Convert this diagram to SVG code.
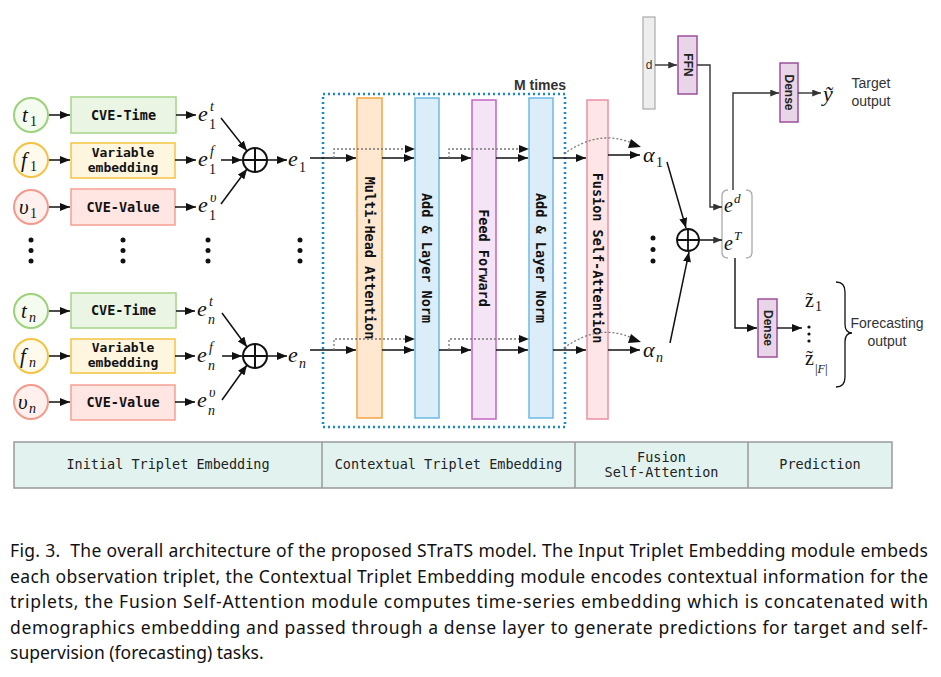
<svg xmlns="http://www.w3.org/2000/svg" width="941" height="677" viewBox="0 0 941 677">
<style>
.mono{font-family:"DejaVu Sans Mono","Liberation Mono",monospace;font-size:13.5px;font-weight:bold;fill:#111;text-anchor:middle}
.mono2{font-family:"DejaVu Sans Mono","Liberation Mono",monospace;font-size:13px;font-weight:bold;fill:#111;text-anchor:middle}
.bar{font-family:"DejaVu Sans Mono","Liberation Mono",monospace;font-size:13.5px;fill:#222;text-anchor:middle}
.sans{font-family:"Liberation Sans",Arial,sans-serif;fill:#333}
.vb{font-family:"Liberation Sans",Arial,sans-serif;font-weight:bold;font-size:12px;fill:#222;text-anchor:middle}
.m{font-family:"Liberation Serif","DejaVu Serif",serif;font-style:italic;fill:#111}
.ms{font-family:"Liberation Serif","DejaVu Serif",serif;fill:#111}
.ln{stroke:#111;stroke-width:1.5;fill:none}
.dl{stroke:#777;stroke-width:1.3;stroke-dasharray:2 2;fill:none}
.cap{font-family:"Noto Sans","Open Sans",sans-serif;font-size:17.5px;fill:#111}
.dot{fill:#111}
</style>
<defs>
<marker id="a" viewBox="0 0 10 8" refX="10" refY="4" markerWidth="10" markerHeight="8" markerUnits="userSpaceOnUse" orient="auto"><path d="M0,0 L10,4 L0,8 z" fill="#111"/></marker>
<marker id="g" viewBox="0 0 10 8" refX="10" refY="4" markerWidth="9" markerHeight="7" markerUnits="userSpaceOnUse" orient="auto"><path d="M0,0 L10,4 L0,8 z" fill="#333"/></marker>
</defs>
<rect width="941" height="677" fill="#fff"/>

<!-- Row 1 -->
<g id="t1"><circle cx="31" cy="115" r="17" fill="#f4fbef" stroke="#9bd27a" stroke-width="2"/><text class="m" x="22" y="122" font-size="21">t</text><text class="ms" x="30" y="126" font-size="14">1</text></g>
<g id="f1"><circle cx="31" cy="160" r="17" fill="#fffaec" stroke="#f5c343" stroke-width="2"/><text class="m" x="21" y="167" font-size="21">f</text><text class="ms" x="30" y="171" font-size="14">1</text></g>
<g id="v1"><circle cx="31" cy="207" r="17" fill="#fff0ee" stroke="#f39a8c" stroke-width="2"/><text class="m" x="19" y="214" font-size="21">υ</text><text class="ms" x="30" y="218" font-size="14">1</text></g>
<g id="cvet1"><rect x="71" y="97" width="105" height="36" fill="#eaf6e3" stroke="#a4d587" stroke-width="1.5"/><text class="mono" x="123.5" y="120">CVE-Time</text></g>
<g id="var1"><rect x="71" y="143" width="104" height="35" fill="#fff6df" stroke="#f5c343" stroke-width="1.5"/><text class="mono2" x="123" y="157">Variable</text><text class="mono2" x="123" y="172">embedding</text></g>
<g id="cvev1"><rect x="71" y="189" width="104" height="36" fill="#ffe6e2" stroke="#f5a093" stroke-width="1.5"/><text class="mono" x="123" y="212">CVE-Value</text></g>
<g id="et1"><text class="m" x="198" y="121" font-size="22">e</text><text class="m" x="210" y="111" font-size="14">t</text><text class="ms" x="209" y="129" font-size="14">1</text></g>
<g id="ef1"><text class="m" x="198" y="166" font-size="22">e</text><text class="m" x="210" y="156" font-size="14">f</text><text class="ms" x="209" y="174" font-size="14">1</text></g>
<g id="ev1"><text class="m" x="198" y="212" font-size="22">e</text><text class="m" x="210" y="202" font-size="14">υ</text><text class="ms" x="209" y="220" font-size="14">1</text></g>
<g id="plus1"><circle cx="255" cy="160" r="12" fill="#fff" stroke="#111" stroke-width="2"/><path d="M243,160 H267 M255,148 V172" stroke="#111" stroke-width="2"/></g>
<g id="e1"><text class="m" x="288" y="166" font-size="22">e</text><text class="ms" x="299" y="172" font-size="14">1</text></g>

<!-- Row n -->
<g id="tn"><circle cx="31" cy="311" r="17" fill="#f4fbef" stroke="#9bd27a" stroke-width="2"/><text class="m" x="21" y="318" font-size="21">t</text><text class="m" x="29" y="322" font-size="14">n</text></g>
<g id="fn"><circle cx="31" cy="356" r="17" fill="#fffaec" stroke="#f5c343" stroke-width="2"/><text class="m" x="20" y="363" font-size="21">f</text><text class="m" x="29" y="367" font-size="14">n</text></g>
<g id="vn"><circle cx="31" cy="402" r="17" fill="#fff0ee" stroke="#f39a8c" stroke-width="2"/><text class="m" x="18" y="409" font-size="21">υ</text><text class="m" x="29" y="413" font-size="14">n</text></g>
<g id="cvetn"><rect x="71" y="293" width="105" height="35" fill="#eaf6e3" stroke="#a4d587" stroke-width="1.5"/><text class="mono" x="123.5" y="315">CVE-Time</text></g>
<g id="varn"><rect x="71" y="339" width="104" height="34" fill="#fff6df" stroke="#f5c343" stroke-width="1.5"/><text class="mono2" x="123" y="352">Variable</text><text class="mono2" x="123" y="367">embedding</text></g>
<g id="cvevn"><rect x="71" y="385" width="104" height="35" fill="#ffe6e2" stroke="#f5a093" stroke-width="1.5"/><text class="mono" x="123" y="407">CVE-Value</text></g>
<g id="etn"><text class="m" x="197" y="316" font-size="22">e</text><text class="m" x="209" y="306" font-size="14">t</text><text class="m" x="208" y="324" font-size="14">n</text></g>
<g id="efn"><text class="m" x="197" y="362" font-size="22">e</text><text class="m" x="209" y="352" font-size="14">f</text><text class="m" x="208" y="370" font-size="14">n</text></g>
<g id="evn"><text class="m" x="197" y="407" font-size="22">e</text><text class="m" x="209" y="397" font-size="14">υ</text><text class="m" x="208" y="415" font-size="14">n</text></g>
<g id="plusn"><circle cx="255" cy="356" r="12" fill="#fff" stroke="#111" stroke-width="2"/><path d="M243,356 H267 M255,344 V368" stroke="#111" stroke-width="2"/></g>
<g id="en"><text class="m" x="288" y="362" font-size="22">e</text><text class="m" x="299" y="368" font-size="14">n</text></g>

<!-- vertical ellipsis -->
<g id="dots">
<circle class="dot" cx="31" cy="240" r="2.5"/><circle class="dot" cx="31" cy="250.5" r="2.5"/><circle class="dot" cx="31" cy="261" r="2.5"/>
<circle class="dot" cx="123" cy="240" r="2.5"/><circle class="dot" cx="123" cy="250.5" r="2.5"/><circle class="dot" cx="123" cy="261" r="2.5"/>
<circle class="dot" cx="208" cy="240" r="2.5"/><circle class="dot" cx="208" cy="250.5" r="2.5"/><circle class="dot" cx="208" cy="261" r="2.5"/>
<circle class="dot" cx="300" cy="240" r="2.5"/><circle class="dot" cx="300" cy="250.5" r="2.5"/><circle class="dot" cx="300" cy="261" r="2.5"/>
<circle class="dot" cx="653" cy="238" r="2.5"/><circle class="dot" cx="653" cy="249.5" r="2.5"/><circle class="dot" cx="653" cy="261" r="2.5"/>
</g>

<!-- Transformer block -->
<g id="mtimes"><rect x="323" y="94" width="242" height="333" fill="none" stroke="#1a88cc" stroke-width="2.5" stroke-dasharray="2 3"/><text class="sans" x="540" y="90" font-size="14" font-weight="bold" text-anchor="middle">M times</text></g>
<g id="mha"><rect x="357" y="98" width="25" height="320" fill="#ffe8cf" stroke="#f2a745" stroke-width="1.5"/><text class="mono" font-size="14" transform="translate(369.5,258) rotate(90)" dy="5">Multi-Head Attention</text></g>
<g id="aln1"><rect x="415" y="98" width="24" height="320" fill="#dbedf9" stroke="#6fb9e6" stroke-width="1.5"/><text class="mono" font-size="14" transform="translate(427,258) rotate(90)" dy="5">Add &amp; Layer Norm</text></g>
<g id="ff"><rect x="472" y="100" width="24" height="319" fill="#f5e4f5" stroke="#c266c6" stroke-width="1.5"/><text class="mono" font-size="14" transform="translate(484,258) rotate(90)" dy="5">Feed Forward</text></g>
<g id="aln2"><rect x="529" y="98" width="24" height="320" fill="#dbedf9" stroke="#6fb9e6" stroke-width="1.5"/><text class="mono" font-size="14" transform="translate(541,258) rotate(90)" dy="5">Add &amp; Layer Norm</text></g>
<g id="fsa"><rect x="587" y="100" width="21" height="319" fill="#ffe6e6" stroke="#ec8fa6" stroke-width="1.5"/><text class="mono" font-size="14" transform="translate(597.5,258) rotate(90)" dy="5">Fusion Self-Attention</text></g>
<g id="alpha1"><text class="m" x="643" y="162" font-size="22">α</text><text class="ms" x="656" y="167" font-size="14">1</text></g>
<g id="alphan"><text class="m" x="643" y="357" font-size="22">α</text><text class="m" x="656" y="362" font-size="14">n</text></g>

<!-- right side -->
<g id="d"><rect x="643" y="17" width="12" height="92" fill="#eeeeee" stroke="#aaa" stroke-width="1.2"/><text class="sans" x="649" y="69" font-size="12" text-anchor="middle" fill="#222">d</text></g>
<g id="ffn"><rect x="678" y="36" width="19" height="58" fill="#e8d5e8" stroke="#9c4f9c" stroke-width="1.5"/><text class="vb" font-size="10.5" transform="translate(687.5,65) rotate(90)" dy="4">FFN</text></g>
<g id="plusf"><circle cx="688" cy="240" r="11" fill="#fff" stroke="#111" stroke-width="1.8"/><path d="M677,240 H699 M688,229 V251" stroke="#111" stroke-width="1.8"/></g>
<g id="concat"><path d="M728,190 Q722,190 722,196 V252 Q722,258 728,258 M746,190 Q752,190 752,196 V252 Q752,258 746,258" fill="none" stroke="#aaa" stroke-width="1.3"/><text class="m" x="724" y="212" font-size="20">e</text><text class="m" x="734" y="203" font-size="13">d</text><text class="m" x="724" y="250" font-size="20">e</text><text class="m" x="734" y="240" font-size="13">T</text></g>
<g id="dense1"><rect x="780" y="63" width="18" height="59" fill="#e8d5e8" stroke="#9c4f9c" stroke-width="1.5"/><text class="vb" transform="translate(789,92.5) rotate(90)" dy="4">Dense</text></g>
<g id="ytilde"><text class="m" x="823" y="101" font-size="22">ỹ</text></g>
<g id="target"><text class="sans" x="871" y="88" font-size="14" text-anchor="middle">Target</text><text class="sans" x="871" y="106" font-size="14" text-anchor="middle">output</text></g>
<g id="dense2"><rect x="758" y="299" width="19" height="58" fill="#e8d5e8" stroke="#9c4f9c" stroke-width="1.5"/><text class="vb" transform="translate(767.5,328) rotate(90)" dy="4">Dense</text></g>
<g id="zout"><text class="ms" x="805" y="307" font-size="20">z̃</text><text class="ms" x="815" y="311" font-size="14">1</text>
<circle class="dot" cx="809" cy="327" r="1.6"/><circle class="dot" cx="809" cy="334" r="1.6"/><circle class="dot" cx="809" cy="341" r="1.6"/>
<text class="ms" x="805" y="365" font-size="20">z̃</text><text class="ms" x="815" y="373" font-size="13">|<tspan font-style="italic" font-size="12">F</tspan>|</text></g>
<g id="forecast"><path d="M836,282 Q845,282 845,292 V324 Q845,333 852,333 Q845,333 845,342 V377 Q845,387 836,387" fill="none" stroke="#111" stroke-width="1.3"/><text class="sans" x="887" y="328" font-size="14" text-anchor="middle">Forecasting</text><text class="sans" x="887" y="346" font-size="14" text-anchor="middle">output</text></g>

<!-- bottom bar -->
<g id="stages">
<rect x="14" y="442" width="878" height="46" fill="#e2f2ef" stroke="#999" stroke-width="1.5"/>
<path d="M322,442 V488 M575,442 V488 M748,442 V488" stroke="#999" stroke-width="1.5"/>
<text class="bar" x="168" y="469">Initial Triplet Embedding</text>
<text class="bar" x="448.5" y="469">Contextual Triplet Embedding</text>
<text class="bar" x="661.5" y="462">Fusion</text>
<text class="bar" x="661.5" y="477">Self-Attention</text>
<text class="bar" x="820" y="469">Prediction</text>
</g>

<!-- connectors -->
<g id="connectors">
<path class="ln" d="M49,115 H70" marker-end="url(#a)"/>
<path class="ln" d="M49,160 H70" marker-end="url(#a)"/>
<path class="ln" d="M49,207 H70" marker-end="url(#a)"/>
<path class="ln" d="M176,115 H196" marker-end="url(#a)"/>
<path class="ln" d="M175,160 H196" marker-end="url(#a)"/>
<path class="ln" d="M175,207 H196" marker-end="url(#a)"/>
<path class="ln" d="M221,118 L247,151" marker-end="url(#a)"/>
<path class="ln" d="M221,160 H242" marker-end="url(#a)"/>
<path class="ln" d="M221,204 L247,169" marker-end="url(#a)"/>
<path class="ln" d="M267,160 H287" marker-end="url(#a)"/>

<path class="ln" d="M49,311 H70" marker-end="url(#a)"/>
<path class="ln" d="M49,356 H70" marker-end="url(#a)"/>
<path class="ln" d="M49,402 H70" marker-end="url(#a)"/>
<path class="ln" d="M176,311 H195" marker-end="url(#a)"/>
<path class="ln" d="M175,356 H195" marker-end="url(#a)"/>
<path class="ln" d="M175,402 H195" marker-end="url(#a)"/>
<path class="ln" d="M222,313 L247,347" marker-end="url(#a)"/>
<path class="ln" d="M222,356 H242" marker-end="url(#a)"/>
<path class="ln" d="M222,400 L247,365" marker-end="url(#a)"/>
<path class="ln" d="M267,356 H287" marker-end="url(#a)"/>

<!-- top row through block -->
<path class="ln" d="M310,158 H356" marker-end="url(#a)"/>
<path class="ln" d="M382,158 H414" marker-end="url(#a)"/>
<path class="ln" d="M439,158 H471" marker-end="url(#a)"/>
<path class="ln" d="M496,158 H528" marker-end="url(#a)"/>
<path class="ln" d="M553,158 H586" marker-end="url(#a)"/>
<path class="ln" d="M608,155 H640" marker-end="url(#a)"/>
<path class="dl" d="M334,158 V149 H408"/><path d="M405,145 L415,149 L405,153 z" fill="#111"/>
<path class="dl" d="M449,158 V149 H522"/><path d="M519,145 L529,149 L519,153 z" fill="#111"/>
<path class="dl" d="M564,154 Q600,128 634,144"/><path d="M631,139 L641,147 L628,148 z" fill="#111"/>

<!-- bottom row through block -->
<path class="ln" d="M310,350 H356" marker-end="url(#a)"/>
<path class="ln" d="M382,350 H414" marker-end="url(#a)"/>
<path class="ln" d="M439,350 H471" marker-end="url(#a)"/>
<path class="ln" d="M496,350 H528" marker-end="url(#a)"/>
<path class="ln" d="M553,350 H586" marker-end="url(#a)"/>
<path class="ln" d="M608,350 H640" marker-end="url(#a)"/>
<path class="dl" d="M334,350 V339 H408"/><path d="M405,335 L415,339 L405,343 z" fill="#111"/>
<path class="dl" d="M449,350 V339 H522"/><path d="M519,335 L529,339 L519,343 z" fill="#111"/>
<path class="dl" d="M564,348 Q600,322 634,339"/><path d="M631,334 L641,342 L628,343 z" fill="#111"/>

<!-- fusion -->
<path class="ln" d="M667,162 L686,228" marker-end="url(#a)"/>
<path class="ln" d="M670,343 L689,252" marker-end="url(#a)"/>
<path class="ln" d="M699,240 H722" marker-end="url(#g)"/>
<path stroke="#333" stroke-width="1.4" fill="none" d="M655,65 H677" marker-end="url(#g)"/>
<path stroke="#333" stroke-width="1.4" fill="none" d="M697,65 H710 V207 H722" marker-end="url(#g)"/>
<path stroke="#333" stroke-width="1.4" fill="none" d="M733,190 V93 H779" marker-end="url(#g)"/>
<path stroke="#333" stroke-width="1.4" fill="none" d="M798,93 H821" marker-end="url(#g)"/>
<path stroke="#111" stroke-width="1.4" fill="none" d="M735,258 V328 H757" marker-end="url(#a)"/>
<path stroke="#111" stroke-width="1.4" fill="none" d="M777,328 H802" marker-end="url(#a)"/>
</g>

<!-- caption -->
<g id="caption">
<text class="cap" x="10" y="557" textLength="918" lengthAdjust="spacing">Fig. 3.&#160; The overall architecture of the proposed STraTS model. The Input Triplet Embedding module embeds</text>
<text class="cap" x="10" y="583" textLength="918" lengthAdjust="spacing">each observation triplet, the Contextual Triplet Embedding module encodes contextual information for the</text>
<text class="cap" x="10" y="608" textLength="918" lengthAdjust="spacing">triplets, the Fusion Self-Attention module computes time-series embedding which is concatenated with</text>
<text class="cap" x="10" y="634" textLength="918" lengthAdjust="spacing">demographics embedding and passed through a dense layer to generate predictions for target and self-</text>
<text class="cap" x="10" y="659">supervision (forecasting) tasks.</text>
</g>
</svg>
